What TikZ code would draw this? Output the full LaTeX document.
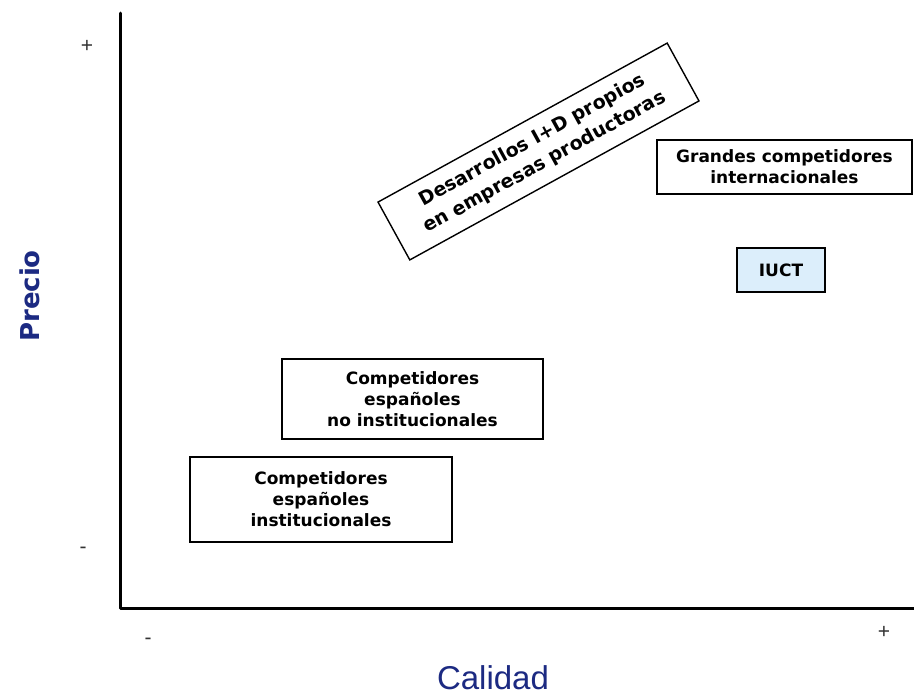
\documentclass[tikz,border=0pt]{standalone}
\usepackage{fontspec}
\usepackage{xcolor}
\usepackage{tikz}
\newfontfamily\boxfont{DejaVu Sans}
\newfontfamily\calfont{Liberation Sans}
\definecolor{ink}{HTML}{000000}
\definecolor{navy}{HTML}{1C2A82}
\definecolor{tickgray}{HTML}{333333}
\definecolor{iucfill}{HTML}{DCEEFB}
\tikzset{
  axis/.style={draw=ink, line width=3pt, line cap=round, line join=round},
  bbox/.style={draw=ink, line width=1.4pt, fill=white, align=center, inner sep=2pt,
    font=\boxfont\bfseries\fontsize{17}{21}\selectfont},
  tick/.style={text=tickgray, font=\calfont\fontsize{21}{21}\selectfont},
  ylab/.style={text=navy, font=\boxfont\bfseries\fontsize{26}{26}\selectfont},
  xlab/.style={text=navy, font=\calfont\fontsize{33}{33}\selectfont},
}
\begin{document}
\begin{tikzpicture}[x=1pt,y=-1pt]
  \useasboundingbox[fill=white] (0,0) rectangle (914,697);
  \coordinate (top) at (120,13);
  \coordinate (O) at (120,608);
  \coordinate (right) at (914,608);
  \draw[axis] (top) -- (O) -- (right);
  \node[tick] (yplus) at (87,46) {+};
  \node[tick] (yminus) at (83,550) {-};
  \node[tick] (xminus) at (148,641) {-};
  \node[tick] (xplus) at (884,632) {+};
  \node[ylab, rotate=90] (precio) at (30,296) {Precio};
  \node[xlab] (calidad) at (493,678) {Calidad};
  \node[bbox, minimum width=330pt, minimum height=66pt, rotate=28.8,
    font=\boxfont\bfseries\fontsize{19}{25}\selectfont] (desarrollo) at (538.5,151.5)
    {Desarrollos I+D propios\\en empresas productoras};
  \node[bbox, minimum width=255pt, minimum height=54pt] (grandes) at (784.5,167)
    {Grandes competidores\\internacionales};
  \node[bbox, fill=iucfill, minimum width=88pt, minimum height=44pt] (iuct) at (781,270) {IUCT};
  \node[bbox, minimum width=261pt, minimum height=80pt] (noinst) at (412.5,399)
    {Competidores\\españoles\\no institucionales};
  \node[bbox, minimum width=262pt, minimum height=85pt] (inst) at (321,499.5)
    {Competidores\\españoles\\institucionales};
\end{tikzpicture}
\end{document}
